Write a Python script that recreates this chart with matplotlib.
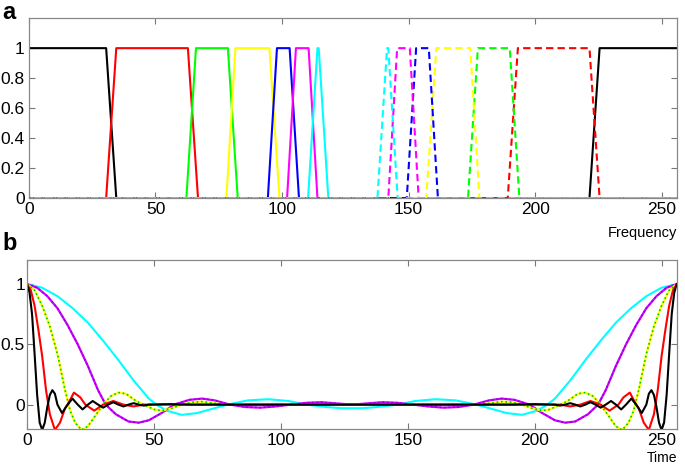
import numpy as np
import matplotlib.pyplot as plt

plt.rcParams['font.family'] = ['Liberation Sans', 'DejaVu Sans']

# panel a: filter bands, (rise start, rise end, fall start, fall end) on the positive side
band_colors = ['#ff0000', '#00ff00', '#ffff00', '#0000ff', '#ff00ff', '#00ffff']
band_edges = [
    [30.5, 34.5, 62.8, 66.8],
    [62.2, 66.0, 78.6, 82.5],
    [78.0, 81.6, 95.0, 99.0],
    [94.4, 98.0, 103.0, 106.7],
    [102.0, 105.5, 110.5, 114.0],
    [110.3, 114.0, 114.5, 118.3],
]
lowpass_edges = [30.5, 34.5]
n_freq = 256

# panel b: left half of each time curve (the right half is its mirror about 128)
t_black = [0, 1, 2, 3, 4, 5, 6, 7, 8, 9, 10, 11, 12, 13.8, 16, 17.9, 20, 21.9, 24, 25.9, 28,
           30, 32, 34, 36, 38, 40, 42, 44, 46, 48, 56, 64, 128]
v_black = [1.0, 0.93, 0.75, 0.42, 0.08, -0.15, -0.21, -0.15, -0.02, 0.08, 0.12, 0.09, 0.0,
           -0.07, 0.0, 0.05, 0.0, -0.04, 0.0, 0.03, 0.0, -0.025, 0.0, 0.02, 0.0, -0.015, 0.0,
           0.012, 0.0, -0.008, 0.0, 0.004, 0.0, 0.0]
t_red = [0, 1.5, 3, 4.5, 6, 7.5, 9, 11, 13, 15, 16, 18.5, 21, 23, 26.5, 30, 34, 38, 42, 46, 128]
v_red = [1.0, 0.95, 0.82, 0.62, 0.4, 0.12, -0.08, -0.21, -0.15, -0.03, 0.0, 0.1, 0.06, 0.0,
         -0.05, 0.0, 0.03, 0.0, -0.015, 0.0, 0.0]
t_yellow = [0, 3, 6, 9, 12, 15, 17, 19, 21.5, 24, 27, 30, 33, 36, 39, 43, 46, 50, 53, 57, 61,
            65, 69, 74, 78, 128]
v_yellow = [1.0, 0.95, 0.82, 0.65, 0.42, 0.12, -0.05, -0.15, -0.21, -0.18, -0.09, 0.0, 0.07,
            0.1, 0.09, 0.03, 0.0, -0.04, -0.05, -0.03, 0.0, 0.02, 0.025, 0.01, 0.0, 0.0]
t_magenta = [0, 4, 8, 12, 16, 20, 24, 28, 31, 35, 40, 44, 48, 53, 58, 64, 69, 74, 80, 86, 92,
             98, 104, 110, 116, 122, 128]
v_magenta = [1.0, 0.97, 0.9, 0.8, 0.66, 0.5, 0.32, 0.12, 0.0, -0.08, -0.14, -0.15, -0.13,
             -0.07, 0.0, 0.04, 0.05, 0.035, 0.0, -0.02, -0.025, -0.015, 0.0, 0.015, 0.02, 0.01,
             0.0]
t_cyan = [0, 6, 12, 18, 24, 30, 36, 42, 48, 51, 55, 61, 67, 73, 79, 87, 95, 103, 110, 118,
          124, 128]
v_cyan = [1.0, 0.97, 0.9, 0.8, 0.68, 0.53, 0.37, 0.2, 0.05, 0.0, -0.05, -0.085, -0.07,
          -0.035, 0.0, 0.035, 0.045, 0.03, 0.0, -0.02, -0.03, -0.03]


def mirror(t, v):
    t = np.asarray(t, float)
    v = np.asarray(v, float)
    return np.concatenate([t, n_freq - t[-2::-1]]), np.concatenate([v, v[-2::-1]])


def style_axes(ax, yticks, yticklabels, ypad=3):
    ax.set_xlim(0, n_freq)
    ax.set_xticks([0, 50, 100, 150, 200, 250])
    ax.set_yticks(yticks)
    ax.set_yticklabels(yticklabels)
    ax.tick_params(direction='in', top=True, right=True, length=4, width=0.8,
                   color='#777777', labelsize=12.5, pad=3)
    ax.tick_params(axis='y', pad=ypad)
    for s in ax.spines.values():
        s.set_color('#888888')
        s.set_linewidth(0.9)


fig = plt.figure(figsize=(6.85, 4.66), dpi=100)
ax1 = fig.add_axes([0.0423, 0.575, 0.9457, 0.386])
ax2 = fig.add_axes([0.0394, 0.08, 0.9486, 0.362])

# panel a
lo0, lo1 = lowpass_edges
ax1.plot([0, lo0, lo1, n_freq - lo1, n_freq - lo0, n_freq], [1, 1, 0, 0, 1, 1],
         color='k', lw=1.5)
for c, (r0, r1, f0, f1) in zip(band_colors, band_edges):
    ax1.plot([0, r0, r1, f0, f1, n_freq], [0, 0, 1, 1, 0, 0], color=c, lw=1.5)
for c, (r0, r1, f0, f1) in zip(band_colors, band_edges):
    xs = [n_freq - x for x in [0, r0, r1, f0, f1, n_freq]]
    ax1.plot(xs, [0, 0, 1, 1, 0, 0], color=c, lw=1.5, ls='--', dashes=(3.5, 2))
ax1.set_ylim(0, 1.2)
style_axes(ax1, [0, 0.2, 0.4, 0.6, 0.8, 1], ['0', '0.2', '0.4', '0.6', '0.8', '1'])
ax1.text(1.0, -0.155, 'Frequency', transform=ax1.transAxes, ha='right', va='top',
         fontsize=10.5)
fig.text(0.004, 0.998, 'a', fontsize=17, fontweight='bold', va='top')

# panel b
t, v = mirror(t_cyan, v_cyan)
ax2.plot(t, v, color='#00ffff', lw=1.5)
t, v = mirror(t_magenta, v_magenta)
ax2.plot(t, v, color='#d000ff', lw=1.6)
ax2.plot(t, v, color='#6000c0', lw=1.2, ls=':', alpha=0.6)
t, v = mirror(t_yellow, v_yellow)
ax2.plot(t, v, color='#ffff00', lw=1.6)
ax2.plot(t, v, color='#00cc00', lw=1.2, ls=':')
t, v = mirror(t_red, v_red)
ax2.plot(t, v, color='#ff0000', lw=1.5)
t, v = mirror(t_black, v_black)
ax2.plot(t, v, color='k', lw=1.5)
ax2.set_ylim(-0.2, 1.2)
style_axes(ax2, [0, 0.5, 1], ['0', '0.5', '1'], ypad=1.5)
ax2.text(1.0, -0.135, 'Time', transform=ax2.transAxes, ha='right', va='top', fontsize=10)
fig.text(0.004, 0.503, 'b', fontsize=17, fontweight='bold', va='top')

fig.savefig('out.png', dpi=100)
